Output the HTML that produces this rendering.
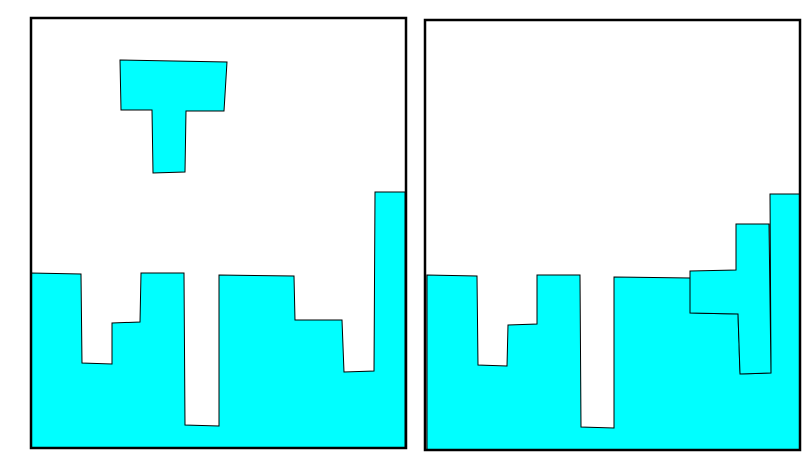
<!DOCTYPE html>
<html><head><meta charset="utf-8"><style>
html,body{margin:0;padding:0;background:#fff;width:805px;height:463px;overflow:hidden}
svg{display:block}
</style></head><body>
<svg width="805" height="463" viewBox="0 0 805 463">
  <g>
    <polygon fill="#00ffff" stroke="#000" stroke-width="1"
      points="31,273 81,274 82,363 112,364 112,323 140,322 141,273 184,273 185,425 219,426 219,275 294,276 295,320 342,320 344,372 374,371 375,192 405,192 405,448 31,448"/>
    <polygon fill="#00ffff" stroke="#000" stroke-width="1"
      points="120,60 227,62 224,111 186,111 185,172 153,173 152,110 121,110"/>
    <rect x="31" y="18" width="375" height="430" fill="none" stroke="#000" stroke-width="2.5"/>
  </g>
  <g>
    <polygon fill="#00ffff" stroke="#000" stroke-width="1"
      points="427,275 477,276 478,365 507,366 508,325 537,324 537,275 580,275 581,427 614,428 614,277 690,278 690,313 738,314 740,374 771,373 770,194 800,194 800,450 427,450"/>
    <polygon fill="#00ffff" stroke="#000" stroke-width="1"
      points="690,271 736,270 736,224 769,224 771,373 740,374 738,314 690,313"/>
    <rect x="425" y="20" width="375" height="430" fill="none" stroke="#000" stroke-width="2.5"/>
  </g>
</svg>
</body></html>
